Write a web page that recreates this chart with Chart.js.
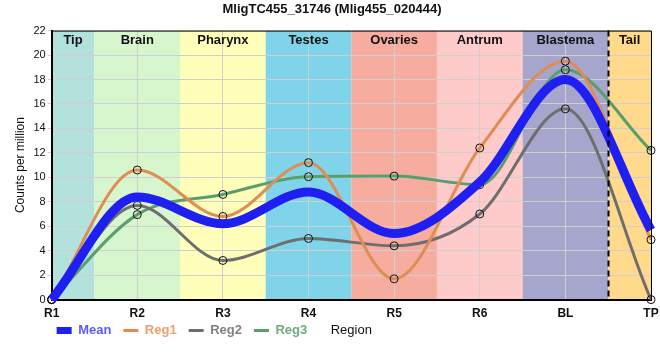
<!DOCTYPE html>
<html>
<head>
<meta charset="utf-8">
<script src="https://cdn.jsdelivr.net/npm/chart.js@4.4.1/dist/chart.umd.min.js"></script>
<style>
  html, body { margin: 0; padding: 0; background: #fff; }
  #wrap { width: 660px; height: 360px; }
</style>
</head>
<body>
<div id="wrap"><canvas id="regionChart"></canvas></div>
<script>
// values
var categories = ['R1', 'R2', 'R3', 'R4', 'R5', 'R6', 'BL', 'TP'];
var meanVals = [0, 8.4, 6.2, 8.8, 5.4, 9.6, 18.0, 5.7];
var reg1Vals = [0, 10.6, 6.8, 11.2, 1.7, 12.4, 19.5, 4.9];
var reg2Vals = [0, 7.7, 3.2, 5.0, 4.4, 7.0, 15.6, 0];
var reg3Vals = [0, 6.95, 8.6, 10.05, 10.1, 9.4, 18.8, 12.2];

// region bands, in category index units
var bandNames = ['Tip', 'Brain', 'Pharynx', 'Testes', 'Ovaries', 'Antrum', 'Blastema', 'Tail'];
var bandFrom = [0, 0.5, 1.5, 2.5, 3.5, 4.5, 5.5, 6.5];
var bandTo = [0.5, 1.5, 2.5, 3.5, 4.5, 5.5, 6.5, 7];
var bandColors = ['#b3e2dd', '#d8f6ce', '#ffffb9', '#80d4ea', '#f6ac9f', '#ffcaca', '#a6a6cc', '#ffd98c'];
var cutAt = 6.5;

var FONT = "'Liberation Sans', Arial, sans-serif";

var bandPlugin = {
    id: 'bands',
    beforeLayout: function(chart) {
        // make the legend row a bit shorter than chart.js wants
        var lg = chart.legend;
        if (lg && !lg._shortFit) {
            var fit = lg.fit;
            lg.fit = function() {
                fit.call(this);
                this.height -= 5;
            };
            lg._shortFit = true;
        }
    },
    afterLayout: function(chart) {
        // legend row sits right under the x labels, starting at the y axis
        var lg = chart.legend;
        if (lg) {
            var w = lg.right - lg.left;
            lg.left = chart.chartArea.left - 7;
            lg.right = lg.left + w;
            lg.top -= 16;
        }
    },
    beforeDraw: function(chart) {
        var ctx = chart.ctx;
        var xs = chart.scales.x;
        var area = chart.chartArea;
        ctx.save();
        for (var i = 0; i < bandNames.length; i++) {
            var x1 = xs.getPixelForValue(bandFrom[i]);
            var x2 = xs.getPixelForValue(bandTo[i]);
            ctx.fillStyle = bandColors[i];
            ctx.fillRect(x1, area.top, x2 - x1, area.bottom - area.top);
        }
        ctx.restore();
    },
    afterDatasetsDraw: function(chart) {
        var ctx = chart.ctx;
        var xs = chart.scales.x;
        var area = chart.chartArea;
        ctx.save();
        // band titles
        ctx.fillStyle = '#111';
        ctx.font = 'bold 13px ' + FONT;
        ctx.textAlign = 'center';
        ctx.textBaseline = 'middle';
        for (var i = 0; i < bandNames.length; i++) {
            var cx = (xs.getPixelForValue(bandFrom[i]) + xs.getPixelForValue(bandTo[i])) / 2;
            ctx.fillText(bandNames[i], cx, area.top + 10);
        }
        // dashed cut line
        var dx = Math.round(xs.getPixelForValue(cutAt)) + 0.5;
        ctx.strokeStyle = '#000';
        ctx.lineWidth = 2;
        ctx.setLineDash([6, 4]);
        ctx.beginPath();
        ctx.moveTo(dx, area.top);
        ctx.lineTo(dx, area.bottom);
        ctx.stroke();
        ctx.setLineDash([]);
        // top and right frame
        ctx.lineWidth = 1;
        ctx.beginPath();
        ctx.moveTo(area.left, area.top + 0.5);
        ctx.lineTo(area.right + 0.5, area.top + 0.5);
        ctx.lineTo(area.right + 0.5, area.bottom);
        ctx.stroke();
        ctx.restore();
    },
    afterDraw: function(chart) {
        var ctx = chart.ctx;
        var area = chart.chartArea;
        var boxes = chart.legend.legendHitBoxes;
        if (!boxes || !boxes.length) return;
        var y = boxes[0].top + boxes[0].height / 2;
        ctx.save();
        ctx.fillStyle = '#111';
        ctx.font = '13px ' + FONT;
        ctx.textAlign = 'center';
        ctx.textBaseline = 'middle';
        ctx.fillText('Region', (area.left + area.right) / 2, y);
        ctx.restore();
    }
};

var legendText = ['#5a5aff', '#eca070', '#808080', '#6aae7c'];

var ctx = document.getElementById('regionChart');
var regionChart = new Chart(ctx, {
    type: 'line',
    data: {
        labels: categories,
        datasets: [
            {
                label: 'Mean',
                data: meanVals,
                borderColor: '#1f1ff2',
                borderWidth: 9,
                pointRadius: 0,
                cubicInterpolationMode: 'monotone',
                order: 0
            },
            {
                label: 'Reg1',
                data: reg1Vals,
                borderColor: '#df8c55',
                borderWidth: 3,
                pointRadius: 4,
                pointBorderColor: '#111',
                pointBorderWidth: 1,
                pointBackgroundColor: 'rgba(0,0,0,0)',
                cubicInterpolationMode: 'monotone',
                order: 1
            },
            {
                label: 'Reg2',
                data: reg2Vals,
                borderColor: '#6e6e6e',
                borderWidth: 3,
                pointRadius: 4,
                pointBorderColor: '#111',
                pointBorderWidth: 1,
                pointBackgroundColor: 'rgba(0,0,0,0)',
                cubicInterpolationMode: 'monotone',
                order: 2
            },
            {
                label: 'Reg3',
                data: reg3Vals,
                borderColor: '#5a9e6c',
                borderWidth: 3,
                pointRadius: 4,
                pointBorderColor: '#111',
                pointBorderWidth: 1,
                pointBackgroundColor: 'rgba(0,0,0,0)',
                cubicInterpolationMode: 'monotone',
                order: 3
            }
        ]
    },
    options: {
        responsive: true,
        maintainAspectRatio: false,
        animation: false,
        clip: false,
        layout: { padding: { left: 13, right: 9, top: 0, bottom: 2 } },
        scales: {
            x: {
                offset: false,
                grid: { color: '#cfcfcf', lineWidth: 1, drawTicks: false },
                border: { color: '#000', width: 2 },
                ticks: { color: '#111', font: { family: FONT, size: 12, weight: 'bold' }, padding: 7, maxRotation: 0 },
                afterFit: function(scale) {
                    scale.paddingRight = 0;
                }
            },
            y: {
                min: 0,
                max: 22,
                grid: { color: '#cfcfcf', lineWidth: 1, tickLength: 4 },
                border: { color: '#000', width: 2 },
                ticks: { stepSize: 2, color: '#111', font: { family: FONT, size: 11 }, padding: 2 },
                title: { display: true, text: 'Counts per million', color: '#111', font: { family: FONT, size: 12 }, padding: { top: 0, bottom: 4 } }
            }
        },
        plugins: {
            title: {
                display: true,
                text: 'MligTC455_31746 (Mlig455_020444)',
                color: '#111',
                font: { family: FONT, size: 13, weight: 'bold' },
                padding: { top: 2, bottom: 13 }
            },
            legend: {
                position: 'bottom',
                align: 'start',
                labels: {
                    usePointStyle: true,
                    pointStyleWidth: 15,
                    padding: 12,
                    font: { family: FONT, size: 13, weight: 'bold' },
                    generateLabels: function(chart) {
                        return chart.data.datasets.map(function(ds, i) {
                            return {
                                text: ds.label,
                                fillStyle: ds.borderColor,
                                strokeStyle: ds.borderColor,
                                fontColor: legendText[i],
                                lineWidth: i === 0 ? 7 : 3,
                                lineCap: 'butt',
                                pointStyle: 'line',
                                datasetIndex: i,
                                hidden: false
                            };
                        });
                    }
                }
            },
            tooltip: { enabled: false }
        }
    },
    plugins: [bandPlugin]
});
</script>
</body>
</html>
